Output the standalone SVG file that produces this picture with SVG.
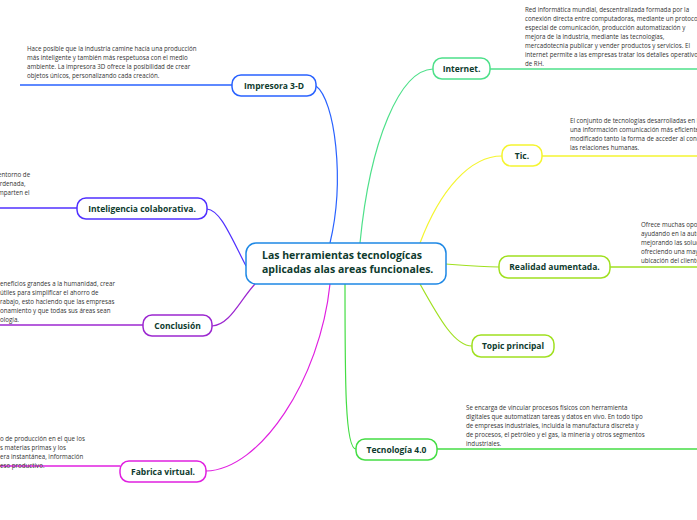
<svg xmlns="http://www.w3.org/2000/svg" width="697" height="520" viewBox="0 0 697 520">
<style>
.n{fill:#fff;stroke-width:1.5}
.l{font-family:"Open Sans","Noto Sans",sans-serif;font-weight:bold;font-size:8.5px;fill:#0e3b2e;text-anchor:middle}
.t{font-family:"Open Sans","Noto Sans",sans-serif;font-size:6.2px;fill:#333}
.c{fill:none;stroke-width:1.2}
.u{stroke-width:1.6}
</style>
<rect width="697" height="520" fill="#fff"/>
<g id="connectors">
<path class="c" stroke="#2962ff" d="M330,243 C345,180 335,100 316,86"/>
<path class="c" stroke="#5030ff" d="M246,266 C230,235 220,210 207,209"/>
<path class="c" stroke="#9c27d0" d="M255,284 C240,300 230,325 212,326"/>
<path class="c" stroke="#e020e0" d="M330,284 C320,380 260,470 206,471"/>
<path class="c" stroke="#4ee08a" d="M360,243 C370,140 400,70 433,69"/>
<path class="c" stroke="#f5f530" d="M420,243 C440,190 470,156 502,156"/>
<path class="c" stroke="#a0e020" d="M446,264 C470,266 480,267 499,267"/>
<path class="c" stroke="#a0e020" d="M420,284 C440,320 455,346 472,346"/>
<path class="c" stroke="#44dd44" d="M345,284 C345,380 345,449 356,449"/>
<line class="u" stroke="#2962ff" x1="20" y1="85" x2="232" y2="85"/>
<line class="u" stroke="#5030ff" x1="0" y1="208" x2="77" y2="208"/>
<line class="u" stroke="#9c27d0" x1="0" y1="325" x2="143" y2="325"/>
<line class="u" stroke="#e020e0" x1="0" y1="466" x2="120" y2="466"/>
<line class="u" stroke="#4ee08a" x1="490" y1="69" x2="697" y2="69"/>
<line class="u" stroke="#f5f530" x1="542" y1="156" x2="697" y2="156"/>
<line class="u" stroke="#a0e020" x1="610" y1="267" x2="697" y2="267"/>
<line class="u" stroke="#44dd44" x1="437" y1="449" x2="697" y2="449"/>
</g>
<g id="center"><rect class="n" stroke="#1e88e5" x="246" y="243" width="200" height="41" rx="10"/>
<text class="l" style="font-size:10.5px;text-anchor:start" x="262" y="259">Las herramientas tecnologícas</text>
<text class="l" style="font-size:10.5px;text-anchor:start" x="262" y="273">aplicadas alas areas funcionales.</text></g>
<g id="impresora"><rect class="n" stroke="#2962ff" x="232" y="75" width="84" height="21" rx="9"/><text class="l" x="274" y="88.5">Impresora 3-D</text>
<text class="t"><tspan x="27" y="51">Hace posible que la industria camine hacía una producción</tspan><tspan x="27" y="60">más inteligente y también más respetuosa con el medio</tspan><tspan x="27" y="69">ambiente. La impresora 3D ofrece la posibilidad de crear</tspan><tspan x="27" y="78">objetos únicos, personalizando cada creación.</tspan></text></g>
<g id="inteligencia"><rect class="n" stroke="#5030ff" x="77" y="198" width="130" height="21" rx="9"/><text class="l" x="142" y="211.5">Inteligencia colaborativa.</text>
<text class="t"><tspan x="-2" y="177">entorno de</tspan><tspan x="-4" y="186">ordenada,</tspan><tspan x="-2" y="195">mparten el</tspan></text></g>
<g id="conclusion"><rect class="n" stroke="#9c27d0" x="143" y="315" width="69" height="21" rx="9"/><text class="l" x="177.5" y="328.5">Conclusión</text>
<text class="t"><tspan x="0" y="286">eneficios grandes a la humanidad, crear</tspan><tspan x="0" y="295">útiles para simplificar el ahorro de</tspan><tspan x="0" y="304">rabajo, esto haciendo que las empresas</tspan><tspan x="0" y="313">onamiento y que todas sus áreas sean</tspan><tspan x="0" y="322">ología.</tspan></text></g>
<g id="fabrica"><rect class="n" stroke="#e020e0" x="120" y="461" width="86" height="21" rx="9"/><text class="l" x="163" y="474.5">Fabrica virtual.</text>
<text class="t"><tspan x="0" y="441">o de producción en el que los</tspan><tspan x="0" y="450">s materias primas y los</tspan><tspan x="0" y="459">era instantánea, información</tspan><tspan x="0" y="468">eso productivo.</tspan></text></g>
<g id="internet"><rect class="n" stroke="#4ee08a" x="433" y="58" width="57" height="21" rx="9"/><text class="l" x="461.5" y="71.5">Internet.</text>
<text class="t"><tspan x="525" y="12">Red informática mundial, descentralizada formada por la</tspan><tspan x="525" y="21">conexión directa entre computadoras, mediante un protocolo</tspan><tspan x="525" y="30">especial de comunicación, producción automatización y</tspan><tspan x="525" y="39">mejora de la industria, mediante las tecnologías,</tspan><tspan x="525" y="48">mercadotecnia publicar y vender productos y servicios. El</tspan><tspan x="525" y="57">internet permite a las empresas tratar los detalles operativos</tspan><tspan x="525" y="66">de RH.</tspan></text></g>
<g id="tic"><rect class="n" stroke="#f5f530" x="502" y="145" width="40" height="21" rx="9"/><text class="l" x="522" y="158.5">Tic.</text>
<text class="t"><tspan x="570" y="123">El conjunto de tecnologías desarrolladas en la</tspan><tspan x="570" y="132">una información comunicación más eficiente</tspan><tspan x="570" y="141">modificado tanto la forma de acceder al cono</tspan><tspan x="570" y="150">las relaciones humanas.</tspan></text></g>
<g id="realidad"><rect class="n" stroke="#a0e020" x="499" y="256" width="111" height="22" rx="9"/><text class="l" x="554.5" y="270">Realidad aumentada.</text>
<text class="t"><tspan x="641" y="227">Ofrece muchas opor</tspan><tspan x="641" y="236">ayudando en la auto</tspan><tspan x="641" y="245">mejorando las soluc</tspan><tspan x="641" y="254">ofreciendo una may</tspan><tspan x="641" y="263">ubicación del cliente</tspan></text></g>
<g id="topic"><rect class="n" stroke="#a0e020" x="472" y="335" width="82" height="22" rx="9"/><text class="l" x="513" y="349">Topic principal</text></g>
<g id="tecnologia"><rect class="n" stroke="#44dd44" x="356" y="439" width="81" height="21" rx="9"/><text class="l" x="396.5" y="452.5">Tecnología 4.0</text>
<text class="t"><tspan x="466" y="410">Se encarga de vincular procesos físicos con herramienta</tspan><tspan x="466" y="419">digitales que automatizan tareas y datos en vivo. En todo tipo</tspan><tspan x="466" y="428">de empresas industriales, incluida la manufactura discreta y</tspan><tspan x="466" y="437">de procesos, el petróleo y el gas, la minería y otros segmentos</tspan><tspan x="466" y="446">industriales.</tspan></text></g>
</svg>
